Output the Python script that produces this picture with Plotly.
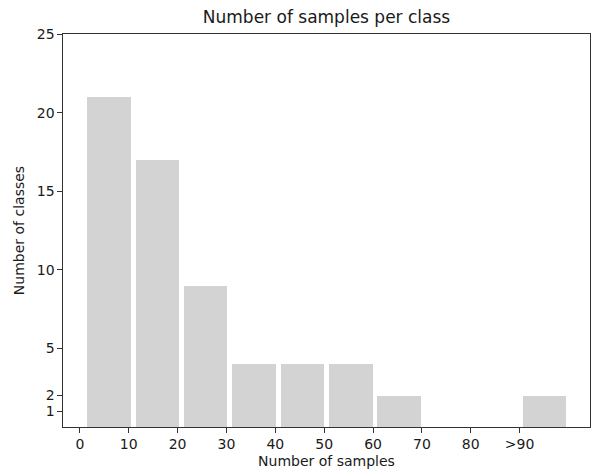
import plotly.graph_objects as go

bin_edges = [1.0, 10.9, 20.8, 30.7, 40.6, 50.5, 60.4, 70.3, 80.2, 90.1, 100.0]
counts = [21, 17, 9, 4, 4, 4, 2, 0, 0, 2]
rwidth = 0.9
x_tick_vals = [0, 10, 20, 30, 40, 50, 60, 70, 80, 90]
x_tick_text = ["0", "10", "20", "30", "40", "50", "60", "70", "80", ">90"]
y_tick_vals = [1, 2, 5, 10, 15, 20, 25]

centers = [(a + b) / 2 for a, b in zip(bin_edges[:-1], bin_edges[1:])]
widths = [(b - a) * rwidth for a, b in zip(bin_edges[:-1], bin_edges[1:])]

fig = go.Figure(go.Bar(
    x=centers, y=counts, width=widths,
    marker=dict(color="#d3d3d3", line=dict(width=0)),
    hoverinfo="skip",
))

font = "DejaVu Sans"
fig.update_layout(
    width=591, height=473,
    margin=dict(l=63, r=1, t=34, b=46, autoexpand=False),
    paper_bgcolor="white", plot_bgcolor="white",
    showlegend=False,
    title=dict(text="Number of samples per class", xref="paper", x=0.5, xanchor="center",
               y=0.963, yanchor="middle", automargin=False,
               font=dict(family=font, size=17, color="#1a1a1a")),
    font=dict(family=font, size=14, color="#1a1a1a"),
    bargap=0,
)
fig.update_xaxes(
    range=[-3.45, 104.4], tickvals=x_tick_vals, ticktext=x_tick_text,
    showgrid=False, zeroline=False, showline=True, linecolor="#333333", linewidth=1.2,
    mirror=True, ticks="outside", ticklen=4.5, tickcolor="#333333", automargin=False,
    title=dict(text="Number of samples", font=dict(family=font, size=14), standoff=4),
)
fig.update_yaxes(
    range=[0, 25], tickvals=y_tick_vals,
    showgrid=False, zeroline=False, showline=True, linecolor="#333333", linewidth=1.2,
    mirror=True, ticks="outside", ticklen=4.5, tickcolor="#333333", automargin=False,
    title=dict(text="Number of classes", font=dict(family=font, size=14), standoff=8),
)
fig.write_html("out.html", config={"displayModeBar": False},
               post_script="document.body.style.margin='0';document.body.style.overflow='hidden';")
